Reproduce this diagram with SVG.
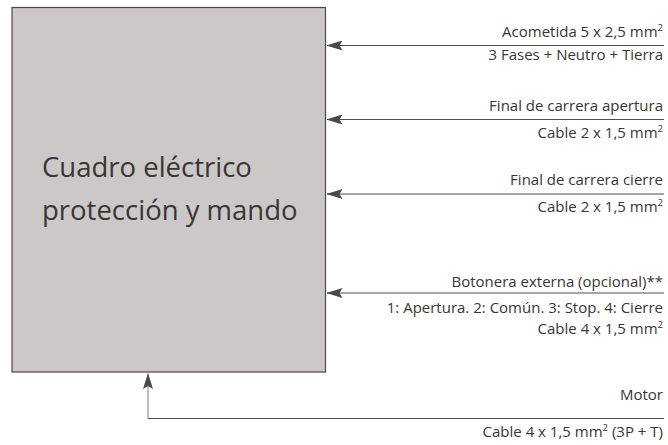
<svg xmlns="http://www.w3.org/2000/svg" width="668" height="445" viewBox="0 0 668 445">
<style>
.t{font-family:"Open Sans","Noto Sans","Liberation Sans",sans-serif;font-size:15px;fill:#3a3536;text-anchor:end}
.big{font-family:"Open Sans","Noto Sans","Liberation Sans",sans-serif;font-size:27.5px;fill:#3a3536}
.ln{stroke:#524c4c;stroke-width:1.2;fill:none}
.sup{font-size:9.5px}
</style>
<defs>
<marker id="ah" viewBox="0 0 16 10" refX="15.5" refY="5" markerWidth="16" markerHeight="10" markerUnits="userSpaceOnUse" orient="auto">
<path d="M16,5 L0,0 L3,5 L0,10 Z" fill="#4d4747"/>
</marker>
</defs>
<g id="cuadro">
<rect x="12" y="7.5" width="313.5" height="364.5" fill="#ccc8c7" stroke="#4d4848" stroke-width="1.2"/>
<text class="big" x="42" y="177">Cuadro eléctrico</text>
<text class="big" x="42" y="220">protección y mando</text>
</g>
<g id="connectors">
<line class="ln" x1="664" y1="45.5" x2="327" y2="45.5" marker-end="url(#ah)"/>
<line class="ln" x1="664" y1="119.5" x2="327" y2="119.5" marker-end="url(#ah)"/>
<line class="ln" x1="664" y1="194" x2="327" y2="194" marker-end="url(#ah)"/>
<line class="ln" x1="664" y1="293" x2="327" y2="293" marker-end="url(#ah)"/>
<polyline class="ln" points="664,418.5 148,418.5" />
<line x1="148" y1="418.5" x2="148" y2="373.5" stroke="#9a9492" stroke-width="1.2" marker-end="url(#ah)"/>
</g>
<g id="acometida">
<text class="t" x="663" y="37">Acometida 5 x 2,5 mm<tspan class="sup" dy="-6">2</tspan></text>
<text class="t" x="663" y="60">3 Fases + Neutro + Tierra</text>
</g>
<g id="final-apertura">
<text class="t" x="663" y="111">Final de carrera apertura</text>
<text class="t" x="663" y="138">Cable 2 x 1,5 mm<tspan class="sup" dy="-6">2</tspan></text>
</g>
<g id="final-cierre">
<text class="t" x="663" y="185">Final de carrera cierre</text>
<text class="t" x="663" y="212">Cable 2 x 1,5 mm<tspan class="sup" dy="-6">2</tspan></text>
</g>
<g id="botonera">
<text class="t" x="663" y="287">Botonera externa (opcional)**</text>
<text class="t" x="663" y="313">1: Apertura. 2: Común. 3: Stop. 4: Cierre</text>
<text class="t" x="663" y="334">Cable 4 x 1,5 mm<tspan class="sup" dy="-6">2</tspan></text>
</g>
<g id="motor">
<text class="t" x="663" y="400">Motor</text>
<text class="t" x="663" y="437">Cable 4 x 1,5 mm<tspan class="sup" dy="-6">2</tspan><tspan dy="6"> (3P + T)</tspan></text>
</g>
</svg>
